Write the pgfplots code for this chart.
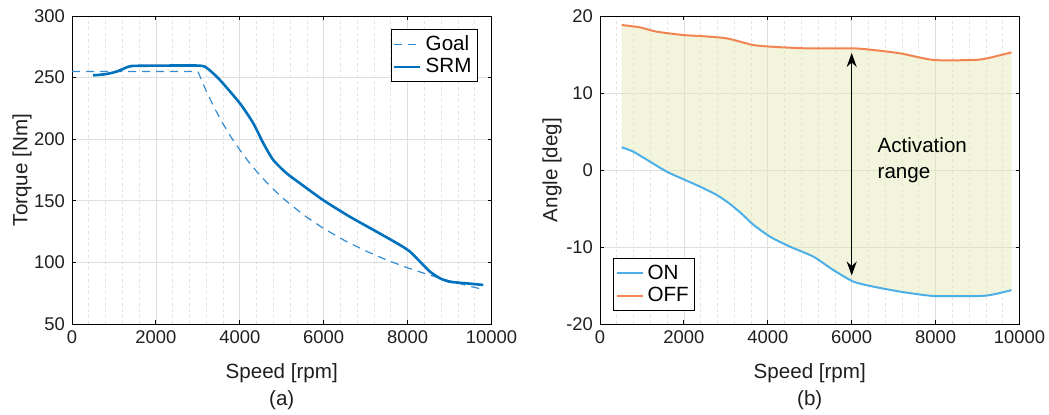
\documentclass[border=0pt]{standalone}
\usepackage{fontspec}
\setmainfont{Liberation Sans}
\usepackage{pgfplots}
\pgfplotsset{compat=1.18}
\usetikzlibrary{arrows.meta}
\definecolor{mblue}{RGB}{0,114,189}
\definecolor{goalc}{RGB}{50,140,210}
\definecolor{onc}{RGB}{77,175,232}
\definecolor{offc}{RGB}{242,132,82}
\definecolor{fillc}{RGB}{226,232,178}
\definecolor{txt}{gray}{0.12}
\pgfplotsset{
  myaxis/.style={
    scale only axis,
    width=209.75pt, height=154pt,
    anchor=south west,
    xmin=0, xmax=10000,
    xtick={0,2000,4000,6000,8000,10000},
    minor x tick num=4,
    minor tick length=0pt,
    major tick length=2pt,
    grid=major,
    xminorgrids=true,
    major grid style={gray!25, line width=0.4pt},
    minor grid style={gray!22, dashed, dash pattern=on 1.5pt off 1.5pt, line width=0.35pt},
    axis line style={line width=0.5pt},
    tick style={black, line width=0.5pt},
    scaled ticks=false,
    /pgf/number format/assume math mode=true,
    /pgf/number format/set thousands separator={},
    tick label style={font=\fontsize{9.2}{10}\selectfont, text=txt},
    label style={font=\fontsize{10.3}{12}\selectfont, text=txt},
    xlabel style={at={(axis description cs:0.5,0)}, anchor=center, yshift=-24.5pt},
    xlabel={Speed [rpm]},
    legend style={font=\fontsize{10.3}{12}\selectfont, draw=black, line width=0.5pt, inner sep=1pt, row sep=-1.5pt, text=black},
    legend cell align=left,
    legend image code/.code={\draw[#1] (0pt,0pt) -- (13pt,0pt);},
  }
}
\begin{document}
\begin{tikzpicture}
\path[use as bounding box] (0,0) rectangle (524.5pt,207pt);
\begin{axis}[myaxis, name=A, at={(36pt,45pt)},
  ymin=50, ymax=300, ytick={50,100,150,200,250,300},
  ylabel={Torque [Nm]},
  ylabel style={at={(axis description cs:0,0.5)}, anchor=center, yshift=25pt},
  legend style={at={(rel axis cs:1,1)}, anchor=north east, xshift=-6.75pt, yshift=-6.5pt},
]
\addplot[goalc, dashed, dash pattern=on 4pt off 3pt, line width=0.6pt] coordinates {
(0,255) (3000,255) (3200,239.1) (3400,225) (3600,212.5) (3800,201.3) (4000,191.3)
(4200,182.1) (4400,173.9) (4600,166.3) (4800,159.4) (5000,153) (5200,147.1) (5600,136.6)
(6000,127.5) (6500,117.7) (7000,109.3) (7500,102) (8000,95.6) (8500,90) (9000,85)
(9500,80.5) (9800,78.1)};
\addlegendentry{Goal}
\addplot[mblue, line width=1.3pt, smooth, tension=0.4] coordinates {
(500,251.8) (800,252.8) (1057,254.8) (1250,257.5) (1415,259.4) (2000,259.7) (3045,259.7)
(3244,257) (3528,248) (4005,229) (4322,212.9) (4561,196.7) (4799,183.1) (5117,172.3)
(5500,162.6) (5986,150.6) (6622,137.1) (7258,125) (7819,114.1) (8057,108.7) (8296,100.6)
(8534,92.5) (8772,87.1) (9011,84.3) (9408,83) (9805,81.7)};
\addlegendentry{SRM}
\end{axis}
\node[font=\fontsize{10.3}{12}\selectfont, text=txt] at ([yshift=-38pt]A.south) {(a)};
\begin{axis}[myaxis, name=B, at={(300pt,45pt)},
  ymin=-20, ymax=20, ytick={-20,-10,0,10,20},
  ylabel={Angle [deg]},
  ylabel style={at={(axis description cs:0,0.5)}, anchor=center, yshift=24pt},
  legend style={at={(rel axis cs:0,0)}, anchor=south west, xshift=6.5pt, yshift=6.5pt},
]
\addplot[fill=fillc, fill opacity=0.45, draw=none, forget plot] coordinates {
(518,2.95) (795,2.38) (1193,1.08) (1591,-0.22) (1989,-1.2) (2387,-2.17) (2785,-3.25)
(3097,-4.4) (3400,-5.8) (3655,-7.1) (4053,-8.66) (4530,-9.96) (5088,-11.26) (5565,-13.0) (6043,-14.5)
(6521,-15.15) (7158,-15.8) (7954,-16.36) (9069,-16.36) (9387,-16.15) (9809,-15.6)
(9809,15.28) (9228,14.5) (8909,14.29) (7954,14.29) (7158,15.15) (6521,15.58) (6043,15.8)
(4928,15.8) (4132,16.0) (3655,16.23) (3018,17.1) (2381,17.4) (1983,17.53) (1346,17.97)
(947,18.53) (518,18.83)} -- cycle;
\addplot[onc, line width=1pt, smooth, tension=0.4] coordinates {
(518,2.95) (795,2.38) (1193,1.08) (1591,-0.22) (1989,-1.2) (2387,-2.17) (2785,-3.25)
(3097,-4.4) (3400,-5.8) (3655,-7.1) (4053,-8.66) (4530,-9.96) (5088,-11.26) (5565,-13.0) (6043,-14.5)
(6521,-15.15) (7158,-15.8) (7954,-16.36) (9069,-16.36) (9387,-16.15) (9809,-15.6)};
\addlegendentry{ON}
\addplot[offc, line width=1pt, smooth, tension=0.4] coordinates {
(518,18.83) (947,18.53) (1346,17.97) (1983,17.53) (2381,17.4) (3018,17.1) (3655,16.23)
(4132,16.0) (4928,15.8) (6043,15.8) (6521,15.58) (7158,15.15) (7954,14.29) (8909,14.29)
(9228,14.5) (9809,15.28)};
\addlegendentry{OFF}
\draw[{Stealth[length=7pt,width=5pt]}-{Stealth[length=7pt,width=5pt]}, line width=0.6pt, black]
  (axis cs:6000,15.2) -- (axis cs:6000,-13.7);
\node[anchor=west, align=left, font=\fontsize{10.3}{13.3}\selectfont, text=black] at (axis cs:6450,1.3) {Activation\\range};
\end{axis}
\node[font=\fontsize{10.3}{12}\selectfont, text=txt] at ([yshift=-38pt]B.south) {(b)};
\end{tikzpicture}
\end{document}
